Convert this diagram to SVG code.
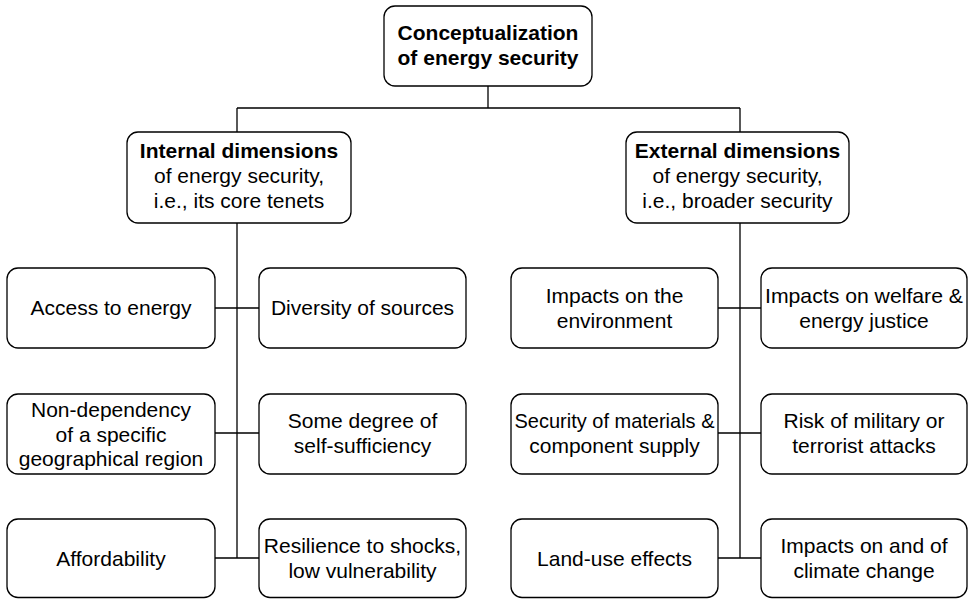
<svg xmlns="http://www.w3.org/2000/svg" width="970" height="599" viewBox="0 0 970 599">
<style>
.box{fill:#fff;stroke:#000;stroke-width:1.3}
.ln{fill:none;stroke:#000;stroke-width:1.3}
text{font-family:"Liberation Sans",Arial,sans-serif;font-size:21px;fill:#000;text-anchor:middle}
.b{font-weight:bold}
</style>
<rect width="970" height="599" fill="#fff"/>
<g id="connectors">
<path class="ln" d="M488 86V108M237 108H740M237 108V132M740 108V132"/>
<path class="ln" d="M237 223V558M215 308H259M215 433H259M215 558H259"/>
<path class="ln" d="M740 223V558M718 308H761M718 433H761M718 558H761"/>
</g>
<g id="root"><rect class="box" x="384" y="6" width="208" height="80" rx="11"/>
<text class="b" x="488" y="40">Conceptualization</text><text class="b" x="488" y="65">of energy security</text></g>
<g id="internal"><rect class="box" x="127" y="132" width="224" height="91" rx="11"/>
<text class="b" x="239" y="158">Internal dimensions</text><text x="239" y="183">of energy security,</text><text x="239" y="208">i.e., its core tenets</text></g>
<g id="external"><rect class="box" x="626" y="132" width="223" height="91" rx="11"/>
<text class="b" x="737.5" y="158">External dimensions</text><text x="737.5" y="183">of energy security,</text><text x="737.5" y="208">i.e., broader security</text></g>
<g id="access"><rect class="box" x="7" y="268" width="208" height="80" rx="11"/><text x="111" y="315">Access to energy</text></g>
<g id="diversity"><rect class="box" x="259" y="268" width="207" height="80" rx="11"/><text x="362.5" y="315">Diversity of sources</text></g>
<g id="nondep"><rect class="box" x="7" y="394" width="208" height="80" rx="11"/><text x="111" y="417">Non-dependency</text><text x="111" y="442">of a specific</text><text x="111" y="466">geographical region</text></g>
<g id="selfsuff"><rect class="box" x="259" y="394" width="207" height="80" rx="11"/><text x="362.5" y="428">Some degree of</text><text x="362.5" y="453">self-sufficiency</text></g>
<g id="afford"><rect class="box" x="7" y="519" width="208" height="78.5" rx="11"/><text x="111" y="566">Affordability</text></g>
<g id="resilience"><rect class="box" x="259" y="519" width="207" height="78.5" rx="11"/><text x="362.5" y="553">Resilience to shocks,</text><text x="362.5" y="578">low vulnerability</text></g>
<g id="environment"><rect class="box" x="511" y="268" width="207" height="80" rx="11"/><text x="614.5" y="303">Impacts on the</text><text x="614.5" y="328">environment</text></g>
<g id="welfare"><rect class="box" x="761" y="268" width="206" height="80" rx="11"/><text x="864" y="303" textLength="198" lengthAdjust="spacingAndGlyphs">Impacts on welfare &amp;</text><text x="864" y="328">energy justice</text></g>
<g id="materials"><rect class="box" x="511" y="394" width="207" height="80" rx="11"/><text x="614.5" y="428" textLength="200" lengthAdjust="spacingAndGlyphs">Security of materials &amp;</text><text x="614.5" y="453">component supply</text></g>
<g id="military"><rect class="box" x="761" y="394" width="206" height="80" rx="11"/><text x="864" y="428">Risk of military or</text><text x="864" y="453">terrorist attacks</text></g>
<g id="landuse"><rect class="box" x="511" y="519" width="207" height="78.5" rx="11"/><text x="614.5" y="566">Land-use effects</text></g>
<g id="climate"><rect class="box" x="761" y="519" width="206" height="78.5" rx="11"/><text x="864" y="553">Impacts on and of</text><text x="864" y="578">climate change</text></g>
</svg>
